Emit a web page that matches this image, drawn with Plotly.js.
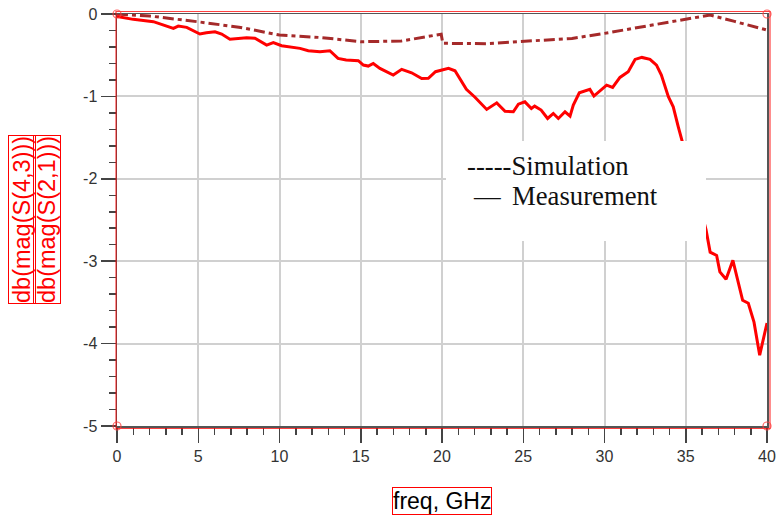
<!DOCTYPE html>
<html><head><meta charset="utf-8">
<script src="https://cdn.plot.ly/plotly-3.0.1.min.js"></script>
<style>html,body{margin:0;padding:0;background:#fff}#chart{width:779px;height:519px}</style>
</head><body><div id="chart"></div>
<script>
const simFreq = [0, 2, 5, 7.5, 10, 12.5, 15, 17.5, 19.95, 20.05, 22.75, 25, 28, 30, 33, 35, 36.5, 38, 40];
const simDb = [0, -0.024, -0.095, -0.16, -0.255, -0.285, -0.336, -0.328, -0.245, -0.356, -0.36, -0.336, -0.296, -0.235, -0.134, -0.065, -0.012, -0.09, -0.195];

const measFreq = [0, 1.0, 2.24, 3.47, 3.77, 4.29, 5.1, 5.5, 6.03, 6.44, 6.95, 7.98, 8.49, 9.21, 9.62, 10.13, 11.26, 11.77, 12.49, 13.1, 13.6, 14.1, 14.85, 15.16, 15.46, 15.77, 16.18, 17.0, 17.52, 18.13, 18.75, 19.16, 19.6, 20.4, 20.8, 21.5, 22.03, 22.75, 23.37, 23.88, 24.39, 24.7, 25.1, 25.5, 25.7, 26.1, 26.5, 26.85, 27.16, 27.57, 27.88, 28.08, 28.45, 29.1, 29.35, 30.13, 30.5, 30.95, 31.46, 31.88, 32.3, 32.8, 33.2, 33.5, 33.93, 34.23, 34.54, 34.75, 35.2, 35.7, 36.25, 36.5, 36.9, 37.1, 37.48, 37.9, 38.5, 38.85, 39.2, 39.55, 40];
const measDb = [-0.03, -0.065, -0.093, -0.174, -0.146, -0.162, -0.243, -0.227, -0.215, -0.243, -0.307, -0.288, -0.295, -0.377, -0.348, -0.385, -0.417, -0.446, -0.458, -0.446, -0.539, -0.559, -0.567, -0.62, -0.632, -0.6, -0.66, -0.741, -0.672, -0.713, -0.782, -0.78, -0.70, -0.66, -0.689, -0.915, -1.01, -1.158, -1.078, -1.18, -1.187, -1.094, -1.066, -1.146, -1.118, -1.166, -1.268, -1.207, -1.268, -1.187, -1.24, -1.106, -0.956, -0.915, -0.996, -0.863, -0.891, -0.77, -0.70, -0.551, -0.527, -0.551, -0.62, -0.741, -1.004, -1.126, -1.369, -1.53, -1.85, -2.2, -2.62, -2.89, -2.93, -3.13, -3.22, -2.99, -3.475, -3.51, -3.74, -4.14, -3.75];

const xTickVals = [0, 5, 10, 15, 20, 25, 30, 35, 40];
const xTickText = ["0", "5", "10", "15", "20", "25", "30", "35", "40"];
const yTickVals = [0, -1, -2, -3, -4, -5];
const yTickText = ["0", "-1", "-2", "-3", "-4", "-5"];
const yTitleLines = ["db(mag(S(4,3)))", "db(mag(S(2,1)))"];
const xTitle = "freq, GHz";
const legendSim = "-----Simulation";
const legendMeas = "Measurement";

const W = 650, H = 412; // plot area px
const px = v => v / W, py = v => v / H;

const traces = [
  {x: simFreq, y: simDb, type: 'scatter', mode: 'lines',
   line: {color: '#A52A2A', width: 3, dash: '11px,4px,4px,4px'}, hoverinfo: 'skip'},
  {x: measFreq, y: measDb, type: 'scatter', mode: 'lines',
   line: {color: '#FF0000', width: 3}, hoverinfo: 'skip'}
];

const axisCommon = {
  showline: true, linecolor: '#555', linewidth: 1.5, mirror: true,
  ticks: 'outside', ticklen: 15, tickwidth: 1.5, tickcolor: '#444',
  showgrid: true, gridcolor: '#d0d0d0', gridwidth: 2,
  zeroline: false, tickmode: 'array',
  tickfont: {family: 'Liberation Sans, Arial, sans-serif', size: 16, color: '#333'}
};

const layout = {
  width: 779, height: 519,
  margin: {l: 117, r: 12, t: 14, b: 93},
  paper_bgcolor: '#fff', plot_bgcolor: '#fff',
  showlegend: false,
  xaxis: Object.assign({}, axisCommon, {
    range: [0, 40], tickvals: xTickVals, ticktext: xTickText,
    minor: {dtick: 1, ticks: 'outside', ticklen: 7, tickwidth: 1.5, tickcolor: '#444', showgrid: false}
  }),
  yaxis: Object.assign({}, axisCommon, {
    range: [-5, 0], tickvals: yTickVals, ticktext: yTickText,
    minor: {dtick: 0.2, ticks: 'outside', ticklen: 7, tickwidth: 1.5, tickcolor: '#444', showgrid: false}
  }),
  shapes: [
    {type: 'rect', xref: 'paper', yref: 'paper', layer: 'above',
     x0: px(446 - 117), x1: px(706 - 117), y0: py(426 - 241), y1: py(426 - 141),
     fillcolor: '#fff', line: {width: 0}},
    {type: 'rect', xref: 'paper', yref: 'paper', layer: 'above',
     x0: px(-1), x1: px(653), y0: py(-2.5), y1: py(414.5),
     line: {color: 'rgba(255,0,0,0.75)', width: 1.2}},
    ...[[0,0],[1,0],[0,1],[1,1]].map(([cx, cy]) => ({
      type: 'circle', xref: 'paper', yref: 'paper', layer: 'above',
      xsizemode: 'pixel', ysizemode: 'pixel', xanchor: cx, yanchor: cy,
      x0: -4, x1: 4, y0: -4, y1: 4,
      line: {color: 'rgba(255,60,60,0.8)', width: 1.2}, fillcolor: 'rgba(0,0,0,0)'
    }))
  ],
  annotations: [
    {text: yTitleLines[0], xref: 'paper', yref: 'paper', x: px(22 - 117), y: py(426 - 220),
     xanchor: 'center', yanchor: 'middle', textangle: -90, showarrow: false,
     font: {family: 'Liberation Sans, Arial, sans-serif', size: 23.5, color: '#FF0000'},
     bordercolor: '#FF0000', borderwidth: 1, borderpad: 0},
    {text: yTitleLines[1], xref: 'paper', yref: 'paper', x: px(47 - 117), y: py(426 - 220),
     xanchor: 'center', yanchor: 'middle', textangle: -90, showarrow: false,
     font: {family: 'Liberation Sans, Arial, sans-serif', size: 23.5, color: '#FF0000'},
     bordercolor: '#FF0000', borderwidth: 1, borderpad: 0},
    {text: xTitle, xref: 'paper', yref: 'paper', x: 0.5, y: py(426 - 501),
     xanchor: 'center', yanchor: 'middle', showarrow: false,
     font: {family: 'Liberation Sans, Arial, sans-serif', size: 23, color: '#000'},
     bordercolor: '#FF0000', borderwidth: 1, borderpad: 0},
    {text: legendSim, xref: 'paper', yref: 'paper', x: px(465 - 117), y: py(426 - 166),
     xanchor: 'left', yanchor: 'middle', showarrow: false,
     font: {family: 'Liberation Serif, Times New Roman, serif', size: 26.7, color: '#111'}},
    {text: '\u2014', xref: 'paper', yref: 'paper', x: px(471 - 117), y: py(426 - 196),
     xanchor: 'left', yanchor: 'middle', showarrow: false,
     font: {family: 'Liberation Serif, Times New Roman, serif', size: 26.7, color: '#111'}},
    {text: legendMeas, xref: 'paper', yref: 'paper', x: px(510 - 117), y: py(426 - 196),
     xanchor: 'left', yanchor: 'middle', showarrow: false,
     font: {family: 'Liberation Serif, Times New Roman, serif', size: 26.7, color: '#111'}}
  ]
};

Plotly.newPlot('chart', traces, layout, {staticPlot: true, displayModeBar: false});
</script>
</body></html>
